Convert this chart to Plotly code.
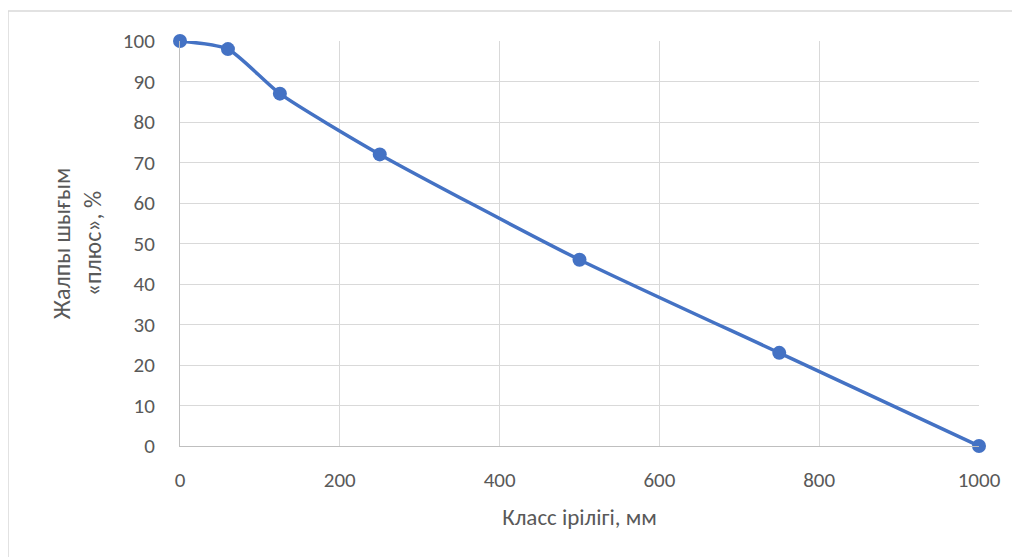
import plotly.graph_objects as go

size_class = [0, 60, 125, 250, 500, 750, 1000]
yield_plus = [100, 98, 87, 72, 46, 23, 0]
x_ticks = [0, 200, 400, 600, 800, 1000]
y_ticks = [0, 10, 20, 30, 40, 50, 60, 70, 80, 90, 100]
x_title = "Класс ірілігі, мм"
y_title = "Жалпы шығым<br>«плюс», %"

FONT = "Carlito, Calibri, Lato, sans-serif"
OFF = 8  # default page body margin
W, H = 1020 - OFF, 557 - OFF
L, R, T, B = 180 - OFF, 41, 41 - OFF, 111
pw, ph = W - L - R, H - T - B

def px(xp):
    return (xp - OFF - L) / pw

def py(yp):
    return (H - B - (yp - OFF)) / ph

fig = go.Figure()
fig.add_trace(go.Scatter(
    x=size_class, y=yield_plus, mode="lines+markers",
    line=dict(color="#4472C4", width=3.5, shape="spline", smoothing=0.6),
    marker=dict(color="#4472C4", size=14),
    showlegend=False, cliponaxis=False,
))

fig.update_layout(
    width=W, height=H,
    margin=dict(l=L, r=R, t=T, b=B),
    paper_bgcolor="white", plot_bgcolor="white",
    font=dict(family=FONT, color="#595959", size=21),
    xaxis=dict(
        range=[0, 1000], tickvals=x_ticks, showgrid=True, gridcolor="#d9d9d9", gridwidth=1,
        zeroline=False, showline=True, linecolor="#bfbfbf", linewidth=1,
        ticklabelstandoff=15, tickfont=dict(size=21, color="#595959"),
        title=dict(text=x_title, font=dict(size=23, color="#595959"), standoff=16),
    ),
    yaxis=dict(
        range=[0, 100], tickvals=y_ticks, showgrid=True, gridcolor="#d9d9d9", gridwidth=1,
        zeroline=False, showline=True, linecolor="#bfbfbf", linewidth=1,
        ticklabelstandoff=20, tickfont=dict(size=21, color="#595959"),
        title=dict(text=y_title, font=dict(size=24, color="#595959"), standoff=14),
    ),
    shapes=[
        dict(type="line", xref="paper", yref="paper", x0=px(8), x1=px(8), y0=py(11), y1=py(H + 20),
             line=dict(color="#d9d9d9", width=1.5)),
        dict(type="line", xref="paper", yref="paper", x0=px(8), x1=px(1030), y0=py(11), y1=py(11),
             line=dict(color="#d9d9d9", width=1.5)),
    ],
)

fig.write_html("out.html")
